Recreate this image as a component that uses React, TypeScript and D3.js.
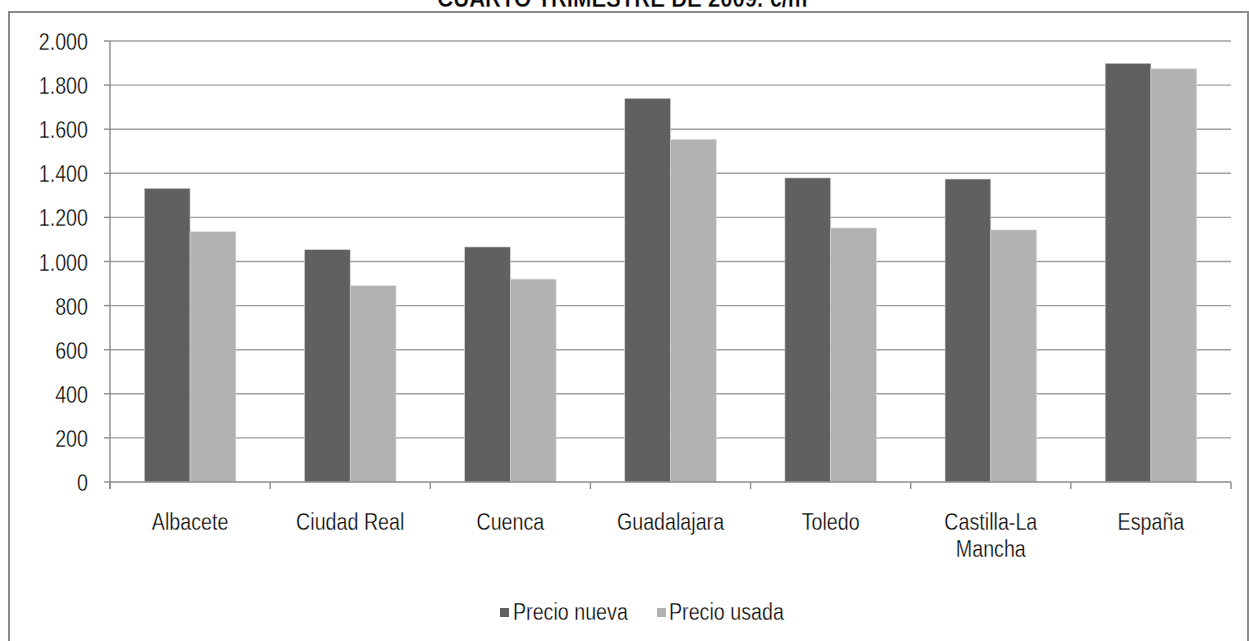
import React from "react";
import * as d3 from "d3";

const categories: string[][] = [
  ["Albacete"],
  ["Ciudad Real"],
  ["Cuenca"],
  ["Guadalajara"],
  ["Toledo"],
  ["Castilla-La", "Mancha"],
  ["España"],
];
const precioNueva = [1332, 1054, 1066, 1740, 1379, 1374, 1899];
const precioUsada = [1135, 890, 920, 1554, 1152, 1143, 1874];
const seriesNames = ["Precio nueva", "Precio usada"];
const seriesColors = ["#606060", "#b2b2b2"];
const yTicks = [0, 200, 400, 600, 800, 1000, 1200, 1400, 1600, 1800, 2000];
const title = "CUARTO TRIMESTRE DE 2009. €/m²";

const W = 1249;
const H = 641;
const FONT = "'Liberation Sans', Arial, sans-serif";
const SX = 0.82;

const fmt = (v: number) =>
  v >= 1000 ? `${Math.floor(v / 1000)}.${String(v % 1000).padStart(3, "0")}` : String(v);

export default function App() {
  const left = 110;
  const right = 1231;
  const y = d3.scaleLinear().domain([0, 2000]).range([482, 41]);
  const x = d3
    .scaleBand<number>()
    .domain(categories.map((_, i) => i))
    .range([left, right])
    .padding(0);
  const inner = d3
    .scaleBand<number>()
    .domain([0, 1])
    .range([0, x.bandwidth()])
    .paddingInner(0)
    .paddingOuter(0.75);
  const values = [precioNueva, precioUsada];

  const T = (
    tx: number,
    ty: number,
    s: string,
    anchor: "start" | "middle" | "end",
    size = 24,
    weight = "normal",
    key?: string | number,
    sx = SX
  ) => (
    <text
      key={key}
      transform={`translate(${tx},${ty}) scale(${sx},1)`}
      textAnchor={anchor}
      fontFamily={FONT}
      fontSize={size}
      fontWeight={weight}
      fill="#000"
      stroke="#fff"
      strokeWidth={0.35}
      paintOrder="fill"
    >
      {s}
    </text>
  );

  return (
    <svg
      width={W}
      height={H}
      style={{ position: "absolute", left: 0, top: 0, display: "block", background: "#fff" }}
    >
      {/* chart frame */}
      <rect x={9} y={12} width={1239} height={700} fill="#fff" stroke="#8c8c8c" strokeWidth={2} />
      {T(626, 7, title, "middle", 26, "bold", "title", 0.85)}

      {/* gridlines and y ticks */}
      {yTicks.map((t) => (
        <g key={t}>
          {t > 0 && (
            <line x1={left} x2={right} y1={y(t)} y2={y(t)} stroke="#a0a0a0" strokeWidth={1.4} />
          )}
          <line x1={104} x2={left} y1={y(t)} y2={y(t)} stroke="#8c8c8c" strokeWidth={1.4} />
          {T(88, y(t) + 9, fmt(t), "end", 24, "normal", `l${t}`)}
        </g>
      ))}

      {/* bars */}
      {categories.map((_, i) =>
        values.map((vals, s) => (
          <rect
            key={`${i}-${s}`}
            x={(x(i) as number) + (inner(s) as number)}
            y={y(vals[i])}
            width={inner.bandwidth()}
            height={y(0) - y(vals[i])}
            fill={seriesColors[s]}
            stroke="#d8d8d8"
            strokeWidth={0.6}
          />
        ))
      )}

      {/* axes */}
      <line x1={left} x2={left} y1={y(2000)} y2={y(0) + 7} stroke="#8c8c8c" strokeWidth={1.4} />
      <line x1={left} x2={right} y1={y(0)} y2={y(0)} stroke="#8c8c8c" strokeWidth={1.4} />
      {d3.range(categories.length + 1).map((i) => {
        const xx = left + i * x.step();
        return <line key={i} x1={xx} x2={xx} y1={y(0)} y2={y(0) + 7} stroke="#8c8c8c" strokeWidth={1.4} />;
      })}

      {/* category labels */}
      {categories.map((lines, i) => (
        <g key={i}>
          {lines.map((ln, k) =>
            T((x(i) as number) + x.bandwidth() / 2, 530 + k * 27, ln, "middle", 24, "normal", k)
          )}
        </g>
      ))}

      {/* legend */}
      {(() => {
        const items = [
          { sq: 500, tx: 513 },
          { sq: 657, tx: 669 },
        ];
        return items.map((it, s) => (
          <g key={s}>
            <rect x={it.sq} y={608} width={9} height={9} fill={seriesColors[s]} />
            {T(it.tx, 620, seriesNames[s], "start", 24, "normal")}
          </g>
        ));
      })()}
    </svg>
  );
}
